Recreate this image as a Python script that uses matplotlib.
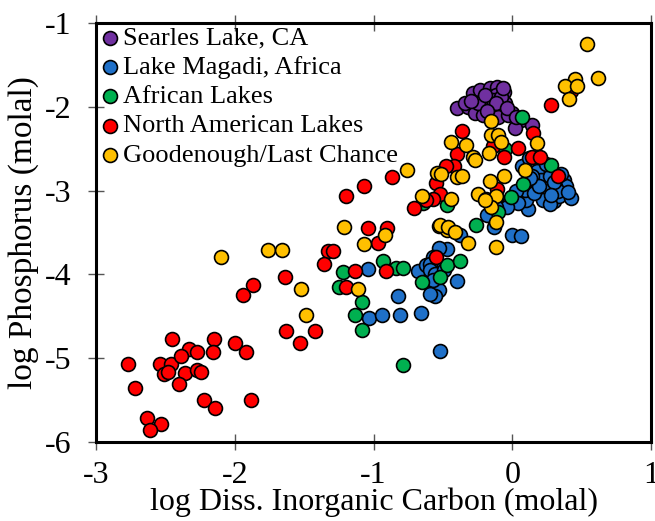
import numpy as np
import matplotlib
matplotlib.use('Agg')
import matplotlib.pyplot as plt

plt.rcParams['font.family'] = ['Liberation Serif', 'DejaVu Serif']

# log DIC (molal), log P (molal) for each group
searles_x = [-0.40, -0.32, -0.28, -0.23, -0.16, -0.11, -0.06, -0.12, -0.21, -0.27,
             -0.21, -0.14, -0.09, -0.05, -0.16, -0.10, 0.00, 0.06, 0.02, 0.14,
             -0.03, -0.18, -0.34, -0.14, -0.08, -0.25, -0.20, -0.12, -0.04, -0.18,
             -0.07, 0.03, -0.30]
searles_y = [-2.02, -2.00, -1.84, -1.80, -1.78, -1.76, -1.82, -1.86, -1.92, -2.08,
             -2.10, -2.08, -2.00, -1.96, -1.98, -2.12, -2.07, -2.16, -2.25, -2.22,
             -2.10, -2.02, -1.96, -1.92, -1.88, -1.96, -1.86, -1.95, -2.02, -2.05,
             -1.78, -2.12, -1.93]

magadi_x = [-1.04, -0.82, -1.03, -0.94, -0.81, -0.66, -0.52, -0.40, -0.53, -0.56,
            -0.47, -0.53, -0.57, -0.56, -0.38, 0.00, 0.06, -0.18, -0.13, -0.08,
            -0.02, 0.04, 0.11, 0.10, 0.09, 0.07, 0.12, 0.18, 0.21, 0.22,
            0.30, 0.34, 0.42, 0.37, 0.39, 0.31, 0.26, 0.33, 0.27, 0.22,
            0.24, -0.68, -0.62, -0.59, -0.59, -0.56, -0.57, -0.59, -0.49, 0.03,
            0.04, -0.04, -0.12, 0.16, 0.27, 0.14, 0.30, 0.35, 0.28, 0.40,
            0.19, 0.13]
magadi_y = [-3.93, -4.26, -4.52, -4.48, -4.48, -4.46, -4.91, -4.08, -4.19, -4.26,
            -3.70, -3.69, -3.79, -3.91, -3.53, -3.53, -3.54, -3.29, -3.43, -3.21,
            -3.15, -3.09, -3.22, -3.11, -2.99, -2.71, -2.61, -2.77, -2.87, -3.03,
            -3.13, -3.07, -3.09, -2.87, -2.95, -2.95, -3.01, -3.01, -2.83, -3.11,
            -2.68, -3.96, -3.89, -3.87, -3.95, -3.99, -4.07, -4.23, -3.95, -3.01,
            -3.15, -3.19, -3.19, -3.03, -3.16, -2.83, -2.90, -2.80, -3.05, -3.02,
            -2.95, -2.85]

african_x = [-1.22, -1.25, -0.93, -0.84, -0.79, -1.08, -1.13, -1.08, -0.65, -0.52,
             -0.47, -0.47, -0.79, 0.07, -0.05, -0.64, -0.01, 0.08, -0.10, -0.26,
             -0.38, 0.28]
african_y = [-3.97, -4.15, -3.84, -3.92, -3.92, -4.33, -4.49, -4.66, -4.09, -4.03,
             -3.89, -3.17, -5.08, -2.12, -2.50, -3.15, -3.08, -2.92, -3.26, -3.41,
             -3.84, -2.70]

namer_x = [-1.87, -1.94, -1.64, -1.63, -1.53, -1.42, -2.45, -2.15, -2.33, -2.27,
           -2.16, -2.00, -1.92, -2.77, -2.54, -2.46, -2.39, -2.51, -2.48, -2.36,
           -2.27, -2.24, -2.40, -2.72, -2.22, -2.14, -1.88, -2.63, -2.53, -2.61,
           -0.87, -1.07, -1.20, -1.04, -0.90, -0.97, -1.33, -1.29, -1.36, -1.13,
           -0.91, -1.20, -0.55, -0.52, -0.57, -0.62, -0.71, -0.55, 0.28, -0.36,
           0.15, 0.04, -0.40, -0.06, -0.14, -0.42, -0.48, -0.11, 0.14, 0.20,
           0.33, 0.42]
namer_y = [-4.13, -4.25, -4.03, -4.67, -4.82, -4.67, -4.77, -4.77, -4.89, -4.92,
           -4.93, -4.82, -4.93, -5.07, -5.07, -5.07, -4.97, -5.19, -5.16, -5.18,
           -5.14, -5.16, -5.31, -5.35, -5.50, -5.59, -5.50, -5.71, -5.79, -5.86,
           -2.84, -2.94, -3.06, -3.45, -3.45, -3.63, -3.72, -3.72, -3.88, -3.96,
           -3.96, -4.15, -2.91, -3.04, -3.10, -3.11, -3.21, -3.79, -1.98, -2.29,
           -2.31, -2.49, -2.56, -2.60, -2.47, -2.71, -2.71, -2.98, -2.60, -2.60,
           -2.83, -1.81]

good_x = [-2.10, -1.76, -1.66, -1.52, -1.49, -1.21, -1.07, -0.92, -1.11, -0.76,
          -0.65, -0.53, -0.47, -0.44, -0.33, -0.28, -0.27, -0.15, -0.10, -0.08,
          -0.17, -0.15, 0.18, -0.54, -0.51, -0.40, -0.36, -0.16, -0.06, -0.44,
          -0.25, -0.19, -0.12, -0.15, -0.12, -0.52, -0.46, 0.09, -0.32, -0.12,
          -0.41, -0.20, 0.54, 0.62, 0.45, 0.38, 0.47, 0.41]
good_y = [-3.79, -3.71, -3.71, -4.18, -4.48, -3.44, -3.64, -3.53, -4.18, -2.75,
          -3.06, -3.42, -3.47, -2.42, -2.46, -2.60, -2.63, -2.34, -2.34, -2.42,
          -2.55, -2.17, -2.43, -2.79, -2.80, -2.84, -2.83, -2.88, -2.83, -3.10,
          -3.04, -3.10, -3.07, -3.20, -3.38, -3.41, -3.43, -2.75, -3.62, -3.67,
          -3.49, -3.11, -1.25, -1.66, -1.67, -1.75, -1.75, -1.91]

groups = [
    ('Searles Lake, CA', searles_x, searles_y, '#7030A0'),
    ('Lake Magadi, Africa', magadi_x, magadi_y, '#1F70C8'),
    ('African Lakes', african_x, african_y, '#00B050'),
    ('North American Lakes', namer_x, namer_y, '#FF0000'),
    ('Goodenough/Last Chance', good_x, good_y, '#FFC000'),
]

fig = plt.figure(figsize=(6.55, 5.21), dpi=100)
ax = fig.add_axes([0.1466, 0.1516, 0.8473, 0.8043])

for name, xs, ys, c in groups:
    ax.scatter(xs, ys, s=100, c=c, edgecolors='black', linewidths=1.2,
               label=name, zorder=3)

ax.set_xlim(-3, 1)
ax.set_ylim(-6, -1)
ax.set_xticks([-3, -2, -1, 0, 1])
ax.set_yticks([-6, -5, -4, -3, -2, -1])
ax.set_xticklabels(['-3', '-2', '-1', '0', '1'])
ax.set_yticklabels(['-6', '-5', '-4', '-3', '-2', '-1'])

for sp in ax.spines.values():
    sp.set_linewidth(2.2)

ax.tick_params(axis='both', direction='inout', length=12, width=1,
               color='#555555', labelsize=23)
ax.tick_params(axis='x', top=True, pad=8)
ax.tick_params(axis='y', pad=12)

ax.set_xlabel('log Diss. Inorganic Carbon (molal)', fontsize=23, labelpad=-2)
ax.set_ylabel('log Phosphorus (molal)', fontsize=24, labelpad=4)

ax.legend(loc='upper left', frameon=False, fontsize=19, handletextpad=0.05,
          labelspacing=0.22, borderaxespad=0.0, borderpad=0.12,
          handlelength=0.85, markerscale=1.0)

fig.savefig('out.png', dpi=100)
